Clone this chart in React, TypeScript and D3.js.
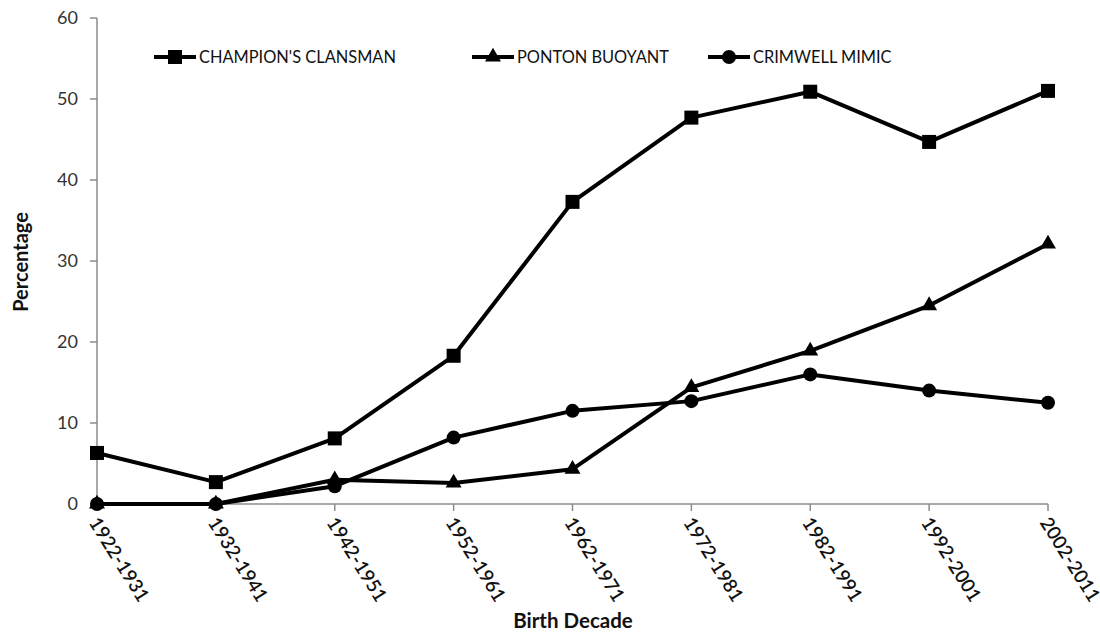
import React from "react";
import * as d3 from "d3";

const decades = [
  "1922-1931",
  "1932-1941",
  "1942-1951",
  "1952-1961",
  "1962-1971",
  "1972-1981",
  "1982-1991",
  "1992-2001",
  "2002-2011",
];

const champion = [6.3, 2.7, 8.1, 18.3, 37.3, 47.7, 50.9, 44.7, 51.0];
const ponton = [0, 0, 3.0, 2.6, 4.3, 14.4, 18.9, 24.5, 32.1];
const crimwell = [0, 0, 2.2, 8.2, 11.5, 12.7, 16.0, 14.0, 12.5];

const yTicks = [0, 10, 20, 30, 40, 50, 60];

const seriesList = [
  { name: "CHAMPION'S CLANSMAN", values: champion, marker: "square" },
  { name: "PONTON BUOYANT", values: ponton, marker: "triangle" },
  { name: "CRIMWELL MIMIC", values: crimwell, marker: "circle" },
];

const width = 1100;
const height = 634;
const margin = { top: 18, right: 52, bottom: 130, left: 97 };
const font = "Lato, 'Open Sans', sans-serif";

function Marker({ type, x, y }: { type: string; x: number; y: number }) {
  if (type === "square") {
    return <rect x={x - 7} y={y - 7} width={14} height={14} fill="#000" />;
  }
  if (type === "triangle") {
    const sym = d3.symbol().type(d3.symbolTriangle).size(110)();
    return <path d={sym || ""} transform={`translate(${x},${y})`} fill="#000" />;
  }
  return <circle cx={x} cy={y} r={7} fill="#000" />;
}

export default function App() {
  const x = d3
    .scalePoint<string>()
    .domain(decades)
    .range([margin.left, width - margin.right]);
  const y = d3
    .scaleLinear()
    .domain([0, 60])
    .range([height - margin.bottom, margin.top]);

  const line = d3
    .line<number>()
    .x((_, i) => x(decades[i]) as number)
    .y((d) => y(d));

  const axisColor = "#8c8c8c";
  const x0 = margin.left;
  const yBase = y(0);

  // legend layout (start x of line sample for each entry)
  const legendX = [154, 472, 708];
  const legendY = 57;

  return (
    <svg
      width={width}
      height={height}
      style={{ display: "block", position: "absolute", left: 0, top: 0, background: "#fff" }}
    >
      {/* y axis */}
      <line x1={x0} x2={x0} y1={y(60)} y2={yBase} stroke={axisColor} strokeWidth={1.5} />
      {yTicks.map((t) => (
        <g key={t}>
          <line x1={x0 - 7} x2={x0} y1={y(t)} y2={y(t)} stroke={axisColor} strokeWidth={1.5} />
          <text
            x={x0 - 19}
            y={y(t)}
            dy="0.35em"
            textAnchor="end"
            fontFamily={font}
            fontSize={18}
            fill="#333"
          >
            {t}
          </text>
        </g>
      ))}

      {/* x axis */}
      <line
        x1={x0}
        x2={width - margin.right}
        y1={yBase}
        y2={yBase}
        stroke={axisColor}
        strokeWidth={1.5}
      />
      {decades.map((d) => (
        <g key={d}>
          <line
            x1={x(d)}
            x2={x(d)}
            y1={yBase}
            y2={yBase + 7}
            stroke={axisColor}
            strokeWidth={1.5}
          />
          <text
            transform={`translate(${(x(d) as number) - 3},${yBase + 15}) rotate(58)`}
            dy="0.35em"
            textAnchor="start"
            fontFamily={font}
            fontSize={19}
            fontWeight={600}
            fill="#111"
          >
            {d}
          </text>
        </g>
      ))}

      {/* axis titles */}
      <text
        transform={`translate(28,262) rotate(-90)`}
        textAnchor="middle"
        fontFamily={font}
        fontSize={20}
        fontWeight={700}
        fill="#111"
      >
        Percentage
      </text>
      <text
        x={573}
        y={628}
        textAnchor="middle"
        fontFamily={font}
        fontSize={20.5}
        fontWeight={700}
        fill="#111"
      >
        Birth Decade
      </text>

      {/* series */}
      {seriesList.map((s) => (
        <g key={s.name}>
          <path
            d={line(s.values) || ""}
            fill="none"
            stroke="#000"
            strokeWidth={4}
            strokeLinejoin="round"
          />
          {s.values.map((v, i) => (
            <Marker key={i} type={s.marker} x={x(decades[i]) as number} y={y(v)} />
          ))}
        </g>
      ))}

      {/* legend */}
      {seriesList.map((s, i) => (
        <g key={s.name}>
          <line
            x1={legendX[i]}
            x2={legendX[i] + 42}
            y1={legendY}
            y2={legendY}
            stroke="#000"
            strokeWidth={4}
          />
          <Marker type={s.marker} x={legendX[i] + 21} y={legendY} />
          <text
            x={legendX[i] + 45}
            y={legendY}
            dy="0.36em"
            fontFamily={font}
            fontSize={16.4}
            fill="#111"
          >
            {s.name}
          </text>
        </g>
      ))}
    </svg>
  );
}
